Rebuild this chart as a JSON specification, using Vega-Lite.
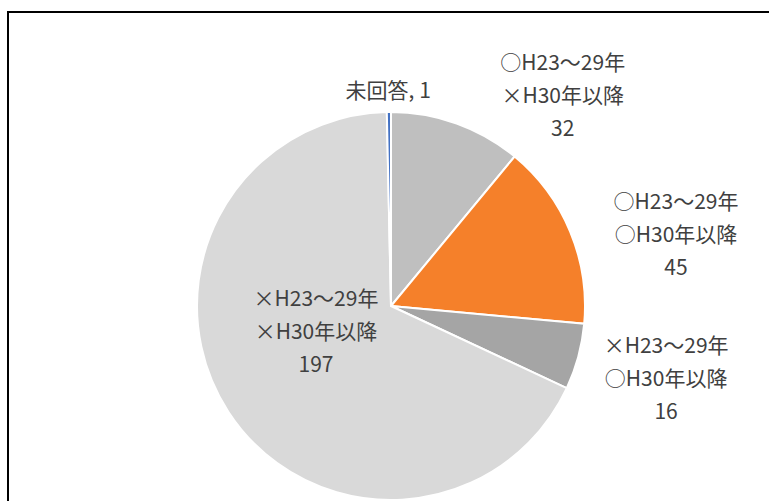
{
  "$schema": "https://vega.github.io/schema/vega-lite/v6.json",
  "width": 761,
  "height": 489,
  "autosize": {"type": "none"},
  "padding": {"left": 8, "top": 12, "right": 0, "bottom": 0},
  "background": "#ffffff",
  "config": {
    "view": {"stroke": null},
    "text": {"font": "Noto Sans CJK JP", "fontSize": 21, "fill": "#404040", "lineBreak": "\n", "lineHeight": 33, "baseline": "middle", "align": "center"}
  },
  "data": {
    "values": [
      {"cat": "○H23～29年 ×H30年以降", "label": "○H23～29年\n×H30年以降\n32", "value": 32, "order": 1},
      {"cat": "○H23～29年 ○H30年以降", "label": "○H23～29年\n○H30年以降\n45", "value": 45, "order": 2},
      {"cat": "×H23～29年 ○H30年以降", "label": "×H23～29年\n○H30年以降\n16", "value": 16, "order": 3},
      {"cat": "×H23～29年 ×H30年以降", "label": "×H23～29年\n×H30年以降\n197", "value": 197, "order": 4},
      {"cat": "未回答", "label": "未回答, 1", "value": 1, "order": 5}
    ]
  },
  "layer": [
    {
      "data": {"values": [{"frame": "left"}]},
      "mark": {"type": "rule", "stroke": "#000000", "strokeWidth": 2},
      "encoding": {
        "x": {"value": 0},
        "y": {"value": -1},
        "y2": {"value": "height"}
      }
    },
    {
      "data": {"values": [{"frame": "top"}]},
      "mark": {"type": "rule", "stroke": "#000000", "strokeWidth": 2},
      "encoding": {
        "y": {"value": 0},
        "x": {"value": -1},
        "x2": {"value": "width"}
      }
    },
    {
      "mark": {"type": "arc", "radius": 194, "stroke": "#ffffff", "strokeWidth": 2, "xOffset": 2.5, "yOffset": 49.5},
      "encoding": {
        "theta": {"field": "value", "type": "quantitative", "stack": true},
        "order": {"field": "order", "type": "quantitative"},
        "color": {
          "field": "cat", "type": "nominal", "legend": null,
          "scale": {
            "domain": ["○H23～29年 ×H30年以降", "○H23～29年 ○H30年以降", "×H23～29年 ○H30年以降", "×H23～29年 ×H30年以降", "未回答"],
            "range": ["#bfbfbf", "#f5802a", "#a5a5a5", "#d9d9d9", "#4472c4"]
          }
        }
      }
    },
    {
      "mark": {"type": "text", "radius": 222, "dx": 99, "dy": 16.5},
      "encoding": {
        "theta": {"field": "value", "type": "quantitative", "stack": true},
        "order": {"field": "order", "type": "quantitative"},
        "text": {"condition": {"test": "datum.order == 1", "field": "label"}, "value": ""}
      }
    },
    {
      "mark": {"type": "text", "radius": 300, "dx": 10.5, "dy": 62},
      "encoding": {
        "theta": {"field": "value", "type": "quantitative", "stack": true},
        "order": {"field": "order", "type": "quantitative"},
        "text": {"condition": {"test": "datum.order == 2", "field": "label"}, "value": ""}
      }
    },
    {
      "mark": {"type": "text", "radius": 285, "dx": 2.5, "dy": 16},
      "encoding": {
        "theta": {"field": "value", "type": "quantitative", "stack": true},
        "order": {"field": "order", "type": "quantitative"},
        "text": {"condition": {"test": "datum.order == 3", "field": "label"}, "value": ""}
      }
    },
    {
      "mark": {"type": "text", "radius": 80, "dx": -5.5, "dy": -0.5},
      "encoding": {
        "theta": {"field": "value", "type": "quantitative", "stack": true},
        "order": {"field": "order", "type": "quantitative"},
        "text": {"condition": {"test": "datum.order == 4", "field": "label"}, "value": ""}
      }
    },
    {
      "mark": {"type": "text", "radius": 214, "dx": 2, "dy": 49.5},
      "encoding": {
        "theta": {"field": "value", "type": "quantitative", "stack": true},
        "order": {"field": "order", "type": "quantitative"},
        "text": {"condition": {"test": "datum.order == 5", "field": "label"}, "value": ""}
      }
    }
  ]
}
